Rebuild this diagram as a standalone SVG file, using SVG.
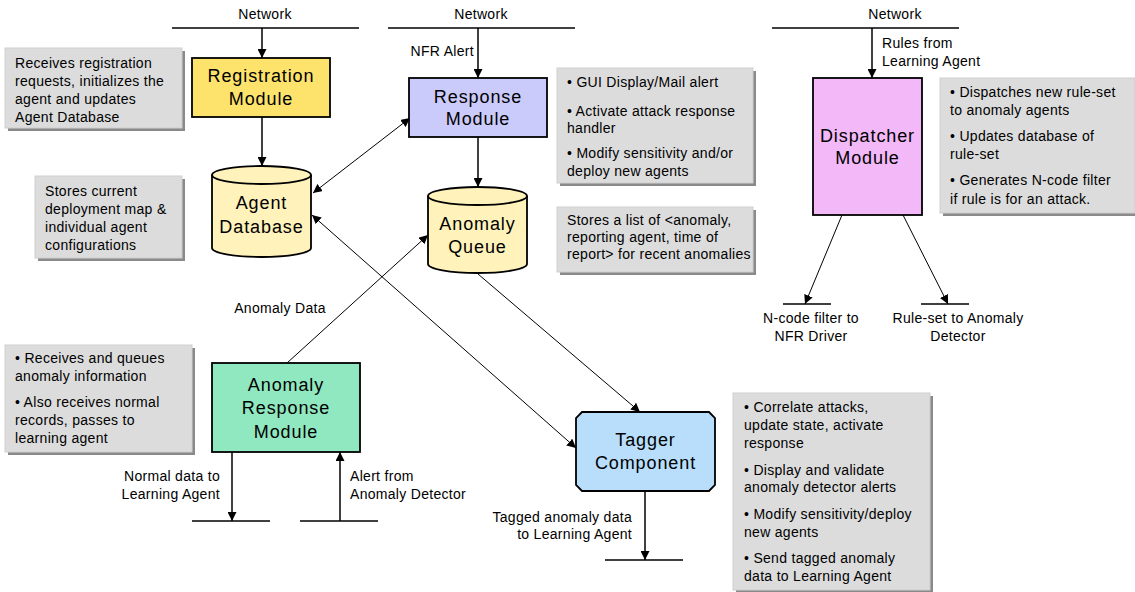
<svg xmlns="http://www.w3.org/2000/svg" width="1135" height="592" viewBox="0 0 1135 592">
<style>
.note{fill:#dcdcdc;stroke:#cfcfcf;stroke-width:1}
.shadow{fill:#8a8a8a}
.nt{font-family:"Liberation Sans",Arial,sans-serif;font-size:14px;letter-spacing:0.3px;fill:#000}
.lbl{font-family:"Liberation Sans",Arial,sans-serif;font-size:14px;letter-spacing:0.3px;fill:#000}
.node{stroke:#000;stroke-width:1.8}
.nl{font-family:"Liberation Sans",Arial,sans-serif;font-size:18px;letter-spacing:0.9px;fill:#000;text-anchor:middle}
.net{stroke:#000;stroke-width:1.5;fill:none}
.arr{stroke:#000;stroke-width:1.5;fill:none}
.diag{stroke:#000;stroke-width:1;fill:none}
</style>
<defs>
<marker id="ah" viewBox="0 0 10 10" refX="10" refY="5" markerWidth="9" markerHeight="9" markerUnits="userSpaceOnUse" orient="auto-start-reverse">
<path d="M0,0 L10,5 L0,10 Z" fill="#000"/>
</marker>
</defs>

<!-- Notes -->
<g id="note-registration">
<rect class="shadow" x="8" y="51" width="177" height="80"/>
<rect class="note" x="5" y="48" width="177" height="80"/>
<text class="nt" x="15" y="68">Receives registration</text>
<text class="nt" x="15" y="86">requests, initializes the</text>
<text class="nt" x="15" y="104">agent and updates</text>
<text class="nt" x="15" y="122">Agent Database</text>
</g>
<g id="note-agentdb">
<rect class="shadow" x="38" y="179" width="147" height="82"/>
<rect class="note" x="35" y="176" width="147" height="82"/>
<text class="nt" x="45" y="196">Stores current</text>
<text class="nt" x="45" y="214">deployment map &amp;</text>
<text class="nt" x="45" y="232">individual agent</text>
<text class="nt" x="45" y="250">configurations</text>
</g>
<g id="note-response">
<rect class="shadow" x="560" y="71" width="196" height="115"/>
<rect class="note" x="557" y="68" width="196" height="115"/>
<text class="nt" x="567" y="87">• GUI Display/Mail alert</text>
<text class="nt" x="567" y="116">• Activate attack response</text>
<text class="nt" x="567" y="133">handler</text>
<text class="nt" x="567" y="158">• Modify sensitivity and/or</text>
<text class="nt" x="567" y="176">deploy new agents</text>
</g>
<g id="note-queue">
<rect class="shadow" x="560" y="210" width="196" height="65"/>
<rect class="note" x="557" y="207" width="196" height="65"/>
<text class="nt" x="567" y="225">Stores a list of &lt;anomaly,</text>
<text class="nt" x="567" y="242">reporting agent, time of</text>
<text class="nt" x="567" y="259">report&gt; for recent anomalies</text>
</g>
<g id="note-dispatcher">
<rect class="shadow" x="943" y="81" width="195" height="135"/>
<rect class="note" x="940" y="78" width="195" height="135"/>
<text class="nt" x="950" y="97">• Dispatches new rule-set</text>
<text class="nt" x="950" y="115">to anomaly agents</text>
<text class="nt" x="950" y="141">• Updates database of</text>
<text class="nt" x="950" y="159">rule-set</text>
<text class="nt" x="950" y="185">• Generates N-code filter</text>
<text class="nt" x="950" y="204">if rule is for an attack.</text>
</g>
<g id="note-anomalyresponse">
<rect class="shadow" x="8" y="348" width="187" height="107"/>
<rect class="note" x="5" y="345" width="187" height="107"/>
<text class="nt" x="15" y="363">• Receives and queues</text>
<text class="nt" x="15" y="381">anomaly information</text>
<text class="nt" x="15" y="407">• Also receives normal</text>
<text class="nt" x="15" y="425">records, passes to</text>
<text class="nt" x="15" y="443">learning agent</text>
</g>
<g id="note-tagger">
<rect class="shadow" x="736" y="396" width="197" height="197"/>
<rect class="note" x="733" y="393" width="197" height="197"/>
<text class="nt" x="744" y="412">• Correlate attacks,</text>
<text class="nt" x="744" y="430">update state, activate</text>
<text class="nt" x="744" y="448">response</text>
<text class="nt" x="744" y="475">• Display and validate</text>
<text class="nt" x="744" y="492">anomaly detector alerts</text>
<text class="nt" x="744" y="519">• Modify sensitivity/deploy</text>
<text class="nt" x="744" y="537">new agents</text>
<text class="nt" x="744" y="563">• Send tagged anomaly</text>
<text class="nt" x="744" y="581">data to Learning Agent</text>
</g>

<!-- Network buses and bottom terminals -->
<g id="buses">
<line class="net" x1="172" y1="28" x2="359" y2="28"/>
<line class="net" x1="388" y1="28" x2="575" y2="28"/>
<line class="net" x1="772" y1="28" x2="959" y2="28"/>
<line class="net" x1="783" y1="304" x2="831" y2="304"/>
<line class="net" x1="921" y1="304" x2="969" y2="304"/>
<line class="net" x1="192" y1="521" x2="270" y2="521"/>
<line class="net" x1="300" y1="521" x2="378" y2="521"/>
<line class="net" x1="605" y1="560" x2="683" y2="560"/>
<text class="lbl" x="265" y="19" text-anchor="middle">Network</text>
<text class="lbl" x="481" y="19" text-anchor="middle">Network</text>
<text class="lbl" x="895" y="19" text-anchor="middle">Network</text>
</g>

<!-- Connectors -->
<g id="connectors">
<line class="arr" x1="262" y1="28" x2="262" y2="58" marker-end="url(#ah)"/>
<line class="arr" x1="262" y1="117" x2="262" y2="166" marker-end="url(#ah)"/>
<line class="arr" x1="478" y1="28" x2="478" y2="78" marker-end="url(#ah)"/>
<line class="arr" x1="478" y1="137" x2="478" y2="187" marker-end="url(#ah)"/>
<line class="arr" x1="872" y1="28" x2="872" y2="78" marker-end="url(#ah)"/>
<line class="diag" x1="842" y1="215" x2="805" y2="304" marker-end="url(#ah)"/>
<line class="diag" x1="903" y1="215" x2="948" y2="304" marker-end="url(#ah)"/>
<line class="diag" x1="313" y1="193" x2="410" y2="118" marker-start="url(#ah)" marker-end="url(#ah)"/>
<line class="diag" x1="312" y1="215" x2="576" y2="448" marker-start="url(#ah)" marker-end="url(#ah)"/>
<line class="diag" x1="287" y1="363" x2="428" y2="235" marker-end="url(#ah)"/>
<line class="diag" x1="478" y1="274" x2="640" y2="412" marker-end="url(#ah)"/>
<line class="arr" x1="232" y1="452" x2="232" y2="521" marker-end="url(#ah)"/>
<line class="arr" x1="340" y1="521" x2="340" y2="452" marker-end="url(#ah)"/>
<line class="arr" x1="645" y1="491" x2="645" y2="560" marker-end="url(#ah)"/>
<text class="lbl" x="474" y="56" text-anchor="end">NFR Alert</text>
<text class="lbl" x="882" y="48">Rules from</text>
<text class="lbl" x="882" y="66">Learning Agent</text>
<text class="lbl" x="811" y="323" text-anchor="middle">N-code filter to</text>
<text class="lbl" x="811" y="341" text-anchor="middle">NFR Driver</text>
<text class="lbl" x="958" y="323" text-anchor="middle">Rule-set to Anomaly</text>
<text class="lbl" x="958" y="341" text-anchor="middle">Detector</text>
<text class="lbl" x="280" y="313" text-anchor="middle">Anomaly Data</text>
<text class="lbl" x="220" y="481" text-anchor="end">Normal data to</text>
<text class="lbl" x="220" y="499" text-anchor="end">Learning Agent</text>
<text class="lbl" x="350" y="481">Alert from</text>
<text class="lbl" x="350" y="499">Anomaly Detector</text>
<text class="lbl" x="632" y="522" text-anchor="end">Tagged anomaly data</text>
<text class="lbl" x="632" y="539" text-anchor="end">to Learning Agent</text>
</g>

<!-- Nodes -->
<g id="registration-module">
<rect class="node" x="192" y="58" width="138" height="59" fill="#fde36c"/>
<text class="nl" x="261" y="82">Registration</text>
<text class="nl" x="261" y="105">Module</text>
</g>
<g id="agent-database">
<path class="node" d="M212,175 A49.5,9 0 0 1 311,175 L311,248 A49.5,9 0 0 1 212,248 Z" fill="#fff2bb"/>
<path class="node" d="M212,175 A49.5,9 0 0 0 311,175" fill="none" stroke-width="1.2"/>
<text class="nl" x="261.5" y="209">Agent</text>
<text class="nl" x="261.5" y="233">Database</text>
</g>
<g id="response-module">
<rect class="node" x="409" y="78" width="138" height="59" fill="#cbcbfb"/>
<text class="nl" x="478" y="103">Response</text>
<text class="nl" x="478" y="125">Module</text>
</g>
<g id="anomaly-queue">
<path class="node" d="M428,196 A49.5,9 0 0 1 527,196 L527,264 A49.5,9 0 0 1 428,264 Z" fill="#fff2bb"/>
<path class="node" d="M428,196 A49.5,9 0 0 0 527,196" fill="none" stroke-width="1.2"/>
<text class="nl" x="477.5" y="230">Anomaly</text>
<text class="nl" x="477.5" y="253">Queue</text>
</g>
<g id="dispatcher-module">
<rect class="node" x="813" y="78" width="109" height="137" fill="#f2b8f8"/>
<text class="nl" x="867.5" y="142">Dispatcher</text>
<text class="nl" x="867.5" y="164">Module</text>
</g>
<g id="anomaly-response-module">
<rect class="node" x="212" y="363" width="148" height="89" fill="#90e8c0"/>
<text class="nl" x="286" y="391">Anomaly</text>
<text class="nl" x="286" y="414">Response</text>
<text class="nl" x="286" y="438">Module</text>
</g>
<g id="tagger-component">
<path class="node" d="M582,412 L709,412 L715,418 L715,485 L709,491 L582,491 L576,485 L576,418 Z" fill="#b8defc"/>
<text class="nl" x="645.5" y="446">Tagger</text>
<text class="nl" x="645.5" y="469">Component</text>
</g>
</svg>
